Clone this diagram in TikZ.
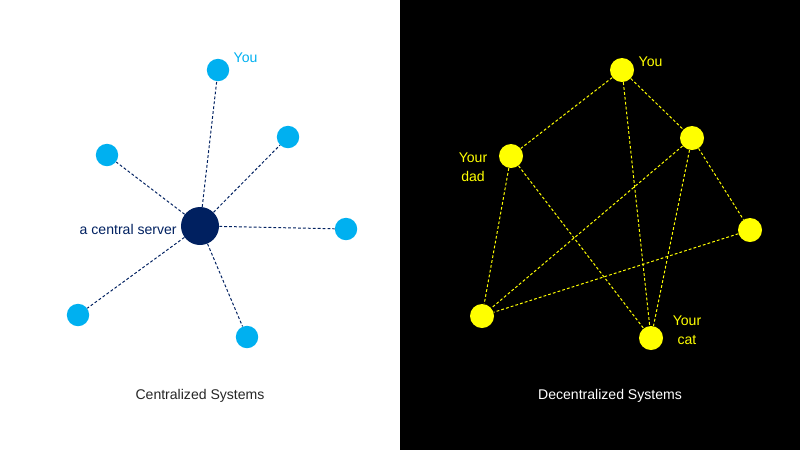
\documentclass[tikz,border=0pt]{standalone}
\usepackage{fontspec}
\setmainfont{Liberation Sans}
\usepackage{xcolor}
\usetikzlibrary{positioning}

\definecolor{skyblue}{HTML}{00B0F0}
\definecolor{navy}{HTML}{002060}
\definecolor{brightyellow}{HTML}{FFFF00}

\begin{document}
\begin{tikzpicture}[
      x=0.025cm, y=-0.025cm,
      client/.style={circle, fill=skyblue, inner sep=0pt, minimum size=0.56cm},
      server/.style={circle, fill=navy, inner sep=0pt, minimum size=0.95cm},
      peer/.style={circle, fill=brightyellow, inner sep=0pt, minimum size=0.6cm},
      clink/.style={navy, line width=0.7pt, dash pattern=on 2pt off 1.5pt},
      plink/.style={brightyellow, line width=0.7pt, dash pattern=on 2pt off 1.5pt},
      tag/.style={font=\normalsize\linespread{1.1}\selectfont, align=center, inner sep=1pt},
      title/.style={font=\normalsize}
  ]
  \useasboundingbox (0,0) rectangle (800,450);
  \fill[black] (400,0) rectangle (800,450);

  %% ---- Centralized (left) ----
  \node[server] (srv) at (200,226) {};
  \node[client] (you) at (218,70) {};
  \node[client] (c_ne) at (288,137) {};
  \node[client] (c_nw) at (107,155) {};
  \node[client] (c_e) at (346,229) {};
  \node[client] (c_sw) at (78,315) {};
  \node[client] (c_s) at (247,337) {};

  \node[tag, text=skyblue, anchor=west] (you_lbl) at (232,58) {You};
  \node[tag, text=navy, left=0.06cm of srv, yshift=-0.08cm] (srv_lbl) {a central server};

  % server to every client
  \draw[clink] (srv) -- (you);
  \draw[clink] (srv) -- (c_ne);
  \draw[clink] (srv) -- (c_nw);
  \draw[clink] (srv) -- (c_e);
  \draw[clink] (srv) -- (c_sw);
  \draw[clink] (srv) -- (c_s);

  \node[title, text=black!85] (c_title) at (200,396) {Centralized Systems};

  %% ---- Decentralized (right) ----
  \node[peer] (p_you) at (622,70) {};
  \node[peer] (p_ne) at (692,138) {};
  \node[peer] (p_dad) at (511,156) {};
  \node[peer] (p_e) at (750,230) {};
  \node[peer] (p_sw) at (482,316) {};
  \node[peer] (p_cat) at (651,338) {};

  \node[tag, text=brightyellow, anchor=west] (p_you_lbl) at (637,62) {You};
  \node[tag, text=brightyellow] (p_dad_lbl) at (473,167) {Your\\dad};
  \node[tag, text=brightyellow] (p_cat_lbl) at (687,330) {Your\\cat};

  % peer to peer
  \draw[plink] (p_you) -- (p_dad);
  \draw[plink] (p_you) -- (p_ne);
  \draw[plink] (p_you) -- (p_cat);
  \draw[plink] (p_ne) -- (p_sw);
  \draw[plink] (p_ne) -- (p_cat);
  \draw[plink] (p_ne) -- (p_e);
  \draw[plink] (p_dad) -- (p_sw);
  \draw[plink] (p_dad) -- (p_cat);
  \draw[plink] (p_e) -- (p_sw);

  \node[title, text=white] (d_title) at (610,396) {Decentralized Systems};
\end{tikzpicture}
\end{document}
